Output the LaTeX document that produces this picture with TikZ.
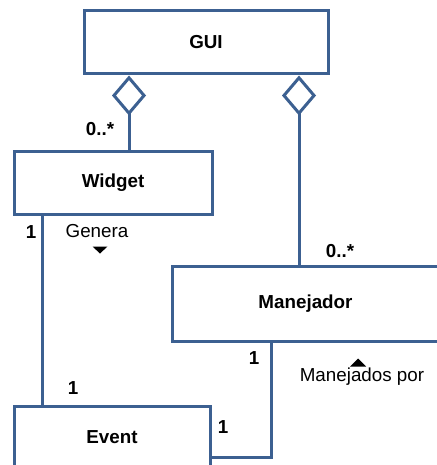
\documentclass[tikz,border=0pt]{standalone}
\usepackage{fontspec}
\setmainfont{Liberation Sans}
\usetikzlibrary{arrows.meta}
\definecolor{umlblue}{RGB}{60,96,145}
\begin{document}
\begin{tikzpicture}[x=1pt,y=-1pt,
  font=\fontsize{18.8}{22}\selectfont,
  cls/.style={draw=umlblue,line width=3pt,fill=white,inner sep=0pt,
    font=\fontsize{18.8}{22}\selectfont\bfseries,line join=miter},
  link/.style={draw=umlblue,line width=3pt},
  agg/.style={link,-{Diamond[open,length=40pt,width=34pt]}},
  mult/.style={font=\fontsize{18.8}{22}\selectfont\bfseries,inner sep=0pt},
  role/.style={inner sep=0pt}]
\useasboundingbox (0,0) rectangle (436,465);

% classes
\node[cls,minimum width=244pt,minimum height=63pt] (gui) at (206,42.5) {GUI};
\node[cls,minimum width=198pt,minimum height=62pt] (widget) at (113,183) {Widget};
\node[cls,minimum width=267pt,minimum height=75pt] (manejador) at (305.5,303.5) {Manejador};
\node[cls,minimum width=196pt,minimum height=62pt] (event) at (112,437) {Event};

% aggregations from GUI
\draw[agg] ([xshift=16pt]widget.north) -- ([xshift=-77pt]gui.south);
\draw[agg] ([xshift=-6.5pt]manejador.north) -- ([xshift=93pt]gui.south);

% associations with Event
\draw[link] ([xshift=-71pt]widget.south) -- ([xshift=-71pt]widget.south |- event.north);
\draw[link,line join=miter] ([xshift=-34.5pt]manejador.south) |- ([yshift=-20pt]event.east);

% multiplicities
\node[mult] (m1) at (100,129) {0..*};
\node[mult] (m2) at (340,251) {0..*};
\node[mult] (m3) at (31,232) {1};
\node[mult] (m4) at (73,388) {1};
\node[mult] (m5) at (254,358) {1};
\node[mult] (m6) at (223,427) {1};

% association names with reading direction
\node[role] (genera) at (97,231) {Genera};
\fill (92.5,246.5) -- (107.5,246.5) -- (100,253.5) -- cycle;
\node[role] (manejados) at (362,376.5) {Manejados por};
\fill (350,366.5) -- (366,366.5) -- (358,358.5) -- cycle;
\end{tikzpicture}
\end{document}
